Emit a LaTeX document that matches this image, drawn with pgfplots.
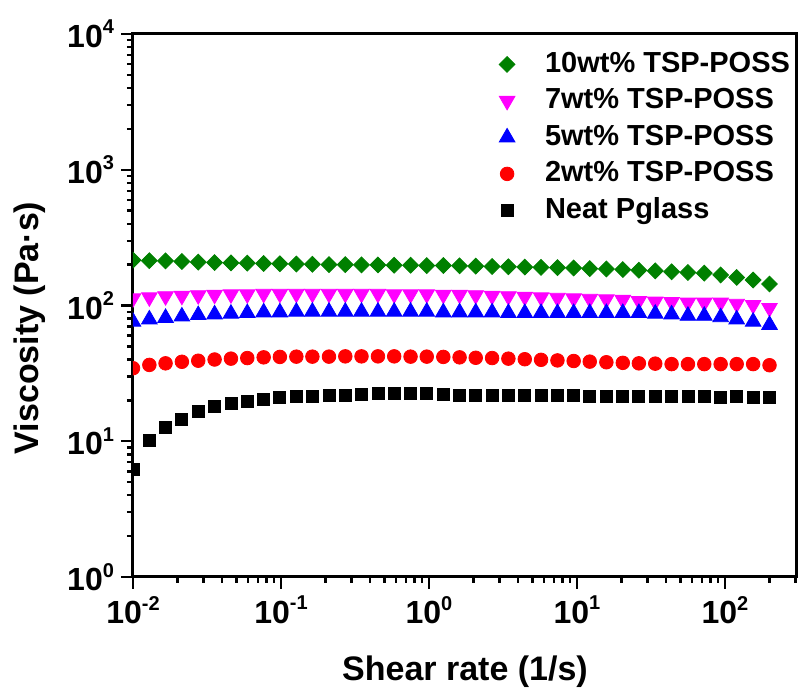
\documentclass[border=0pt]{standalone}
\usepackage{fontspec}
\setmainfont{Liberation Sans}
\usepackage{pgfplots}
\usepackage{pgfplotstable}
\pgfplotsset{compat=1.18}

\definecolor{pgreen}{RGB}{0,128,0}
\definecolor{pmag}{RGB}{255,0,255}
\definecolor{pblue}{RGB}{0,0,255}
\definecolor{pred}{RGB}{255,0,0}

% shear rate, then viscosity of 10, 7, 5, 2 wt% and neat
\pgfplotstableread{
x       g    m    b   r     k
0.01    216  113  76  34.5  6.2
0.0129  214  115  79  36.5  10.2
0.0166  213  117  81  37.5  12.7
0.0214  211  118  83  38.5  14.5
0.0276  209  119  85  39.2  16.5
0.0356  207  120  86  40.0  18.0
0.0459  206  121  87  40.6  19.0
0.0592  205  121  88  41.0  19.6
0.0764  204  122  89  41.5  20.5
0.0983  203  122  89  41.8  21.0
0.127   202  122  90  42.0  21.3
0.163   201  122  90  42.0  21.5
0.211   200  122  90  42.0  21.7
0.272   200  122  90  42.2  21.9
0.350   199  122  90  42.2  22.2
0.452   199  122  90  42.2  22.4
0.582   198  121  90  42.2  22.5
0.751   198  121  90  42.0  22.5
0.966   197  121  90  42.0  22.4
1.25    197  120  89  41.8  22.2
1.61    196  120  89  41.5  21.9
2.07    195  119  89  41.2  21.8
2.67    194  118  89  41.0  21.8
3.44    193  117  88  40.6  21.7
4.44    192  116  88  40.2  21.7
5.72    191  115  88  39.8  21.6
7.38    190  114  88  39.4  21.6
9.50    189  113  88  39.0  21.6
12.2    187  112  88  38.6  21.5
15.8    186  111  88  38.2  21.5
20.4    184  110  88  37.8  21.5
26.2    182  108  88  37.5  21.4
33.8    180  107  87  37.3  21.4
43.6    177  106  86  37.0  21.3
56.2    175  105  84  37.0  21.3
72.5    173  105  84  37.0  21.3
93.5    168  105  82  37.0  21.2
120     161  103  79  37.0  21.3
155     154  101  76  37.0  21.2
200     144  96   72  36.3  21.2
}\visc

\newcommand{\tlab}[2]{#1\raisebox{6.8pt}{\fontsize{10}{10}\selectfont #2}}

\begin{document}
\begin{tikzpicture}[font=\bfseries]
\begin{axis}[
  name=ax,
  scale only axis,
  width=332pt, height=271.5pt,
  xmode=log, ymode=log,
  xmin=0.01, xmax=306.7, ymin=1, ymax=10000,
  clip marker paths=true,
  xtick={0.01,0.1,1,10,100},
  xticklabels={\tlab{10}{-2},\tlab{10}{-1},\tlab{10}{0},\tlab{10}{1},\tlab{10}{2}},
  minor xtick={0.02,0.03,0.04,0.05,0.06,0.07,0.08,0.09,0.2,0.3,0.4,0.5,0.6,0.7,0.8,0.9,2,3,4,5,6,7,8,9,20,30,40,50,60,70,80,90,200,300},
  ytick={1,10,100,1000,10000},
  yticklabels={\tlab{10}{0},\tlab{10}{1},\tlab{10}{2},\tlab{10}{3},\tlab{10}{4}},
  minor ytick={2,3,4,5,6,7,8,9,20,30,40,50,60,70,80,90,200,300,400,500,600,700,800,900,2000,3000,4000,5000,6000,7000,8000,9000},
  tick pos=left, tick align=outside,
  major tick length=6pt, minor tick length=3pt,
  every tick/.style={black, line width=1.2pt},
  axis line style={line width=1.5pt},
  ticklabel style={font=\fontsize{16}{16}\selectfont\bfseries},
  xlabel={Shear rate (1/s)},
  ylabel={Viscosity (Pa·s)},
  every axis y label/.style={at={(axis description cs:-0.155,0.4586)}, rotate=90, anchor=center, font=\fontsize{17}{17}\selectfont\bfseries},
  every axis x label/.style={at={(axis description cs:0.5,-0.175)}, anchor=center, font=\fontsize{17}{17}\selectfont\bfseries},
  legend cell align=left,
  legend image code/.code={\draw[#1] plot coordinates {(0pt,0pt)};},
  legend style={draw=none, fill=none, inner sep=0pt, outer sep=0pt,
    at={(axis description cs:1,1)}, anchor=north east, xshift=-3.5pt, yshift=-8.2pt,
    font=\fontsize{14.5}{14.5}\selectfont\bfseries,
    nodes={inner sep=0pt, text height=11pt, text depth=3pt},
    row sep=4.25pt,
    /tikz/every odd column/.append style={column sep=15pt}},
]
\addplot[only marks, color=pgreen, mark=square*, mark size=2.8pt, mark options={rotate=45}] table[x=x, y=g] {\visc};
\addlegendentry{10wt\% TSP-POSS}
\addplot[only marks, color=pmag, mark=triangle*, mark size=4.5pt, mark options={rotate=180}] table[x=x, y=m] {\visc};
\addlegendentry{7wt\% TSP-POSS}
\addplot[only marks, color=pblue, mark=triangle*, mark size=4.5pt] table[x=x, y=b] {\visc};
\addlegendentry{5wt\% TSP-POSS}
\addplot[only marks, color=pred, mark=*, mark size=3.4pt] table[x=x, y=r] {\visc};
\addlegendentry{2wt\% TSP-POSS}
\addplot[only marks, color=black, mark=square*, mark size=3pt] table[x=x, y=k] {\visc};
\addlegendentry{Neat Pglass}
\end{axis}
\pgfresetboundingbox
\path ([shift={(-66.5pt,-59.5pt)}]ax.south west) rectangle ([shift={(1pt,17pt)}]ax.north east);
\end{tikzpicture}
\end{document}
